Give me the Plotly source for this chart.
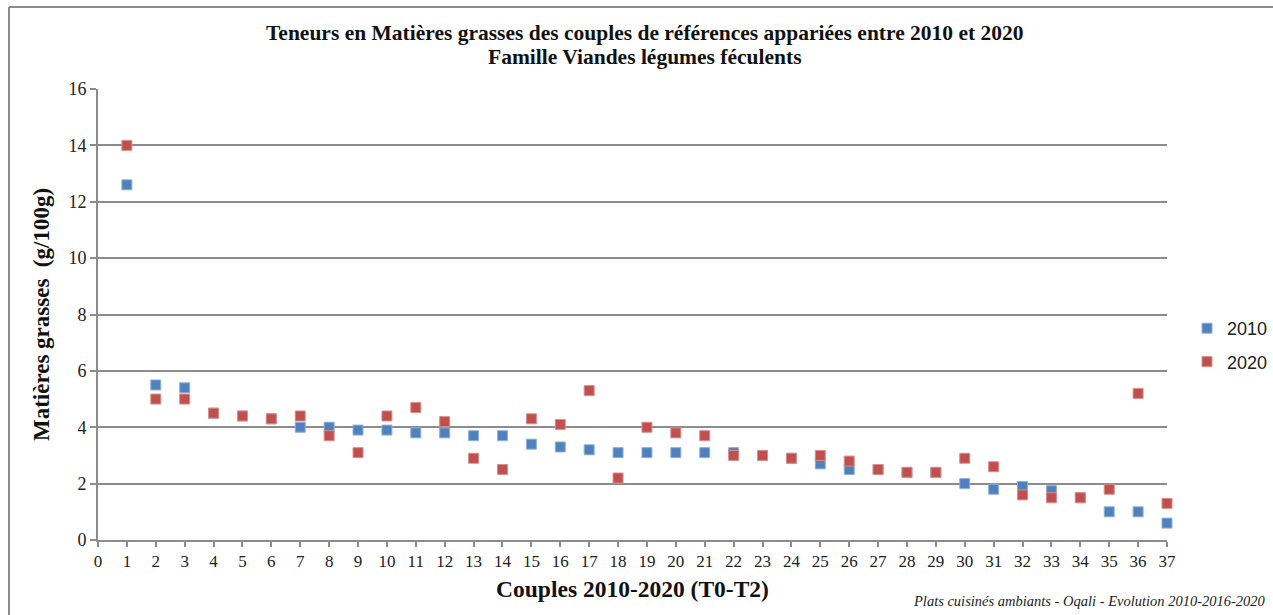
import plotly.graph_objects as go

couples = list(range(1, 38))
mg_2010 = [12.6, 5.5, 5.4, 4.5, 4.4, 4.3, 4.0, 4.0, 3.9, 3.9, 3.8, 3.8, 3.7, 3.7, 3.4, 3.3, 3.2,
           3.1, 3.1, 3.1, 3.1, 3.1, 3.0, 2.9, 2.7, 2.5, 2.5, 2.4, 2.4, 2.0, 1.8, 1.9, 1.75, 1.5,
           1.0, 1.0, 0.6]
mg_2020 = [14.0, 5.0, 5.0, 4.5, 4.4, 4.3, 4.4, 3.7, 3.1, 4.4, 4.7, 4.2, 2.9, 2.5, 4.3, 4.1, 5.3,
           2.2, 4.0, 3.8, 3.7, 3.0, 3.0, 2.9, 3.0, 2.8, 2.5, 2.4, 2.4, 2.9, 2.6, 1.6, 1.5, 1.5,
           1.8, 5.2, 1.3]
x_ticks = list(range(0, 38))
y_ticks = list(range(0, 17, 2))

serif = "Liberation Serif"

fig = go.Figure()
fig.add_trace(go.Scatter(x=couples, y=mg_2010, mode="markers", name="2010", legendgroup="a",
                         marker=dict(symbol="square", size=10, color="#4F81BD",
                                     line=dict(color="#8EB0DB", width=1)),
                         cliponaxis=False))
fig.add_trace(go.Scatter(x=couples, y=mg_2020, mode="markers", name="2020", legendgroup="b",
                         marker=dict(symbol="square", size=10, color="#C0504D",
                                     line=dict(color="#DB8E8C", width=1)),
                         cliponaxis=False))

W, H = 1273, 615
ml, mr, mt, mb = 98, 106, 89, 75
pw, ph = W - ml - mr, H - mt - mb

def px(xp):
    return (xp - ml) / pw

def py(yp):
    return (H - mb - yp) / ph

fig.update_layout(
    width=W, height=H,
    margin=dict(l=ml, r=mr, t=mt, b=mb, autoexpand=False),
    paper_bgcolor="white", plot_bgcolor="white",
    showlegend=True,
    legend=dict(x=px(1187), y=py(310), xanchor="left", yanchor="top",
                font=dict(family="Liberation Sans", size=18, color="#222"),
                traceorder="grouped", tracegroupgap=7, itemwidth=30),
    xaxis=dict(range=[0, 37], tickmode="array", tickvals=x_ticks, ticktext=[str(v) for v in x_ticks],
               showgrid=False, zeroline=False, showline=True, linecolor="#8c8c8c", linewidth=2,
               ticks="outside", ticklen=5, tickcolor="#8c8c8c", tickwidth=2,
               tickfont=dict(family=serif, size=17, color="#222"),
               title=dict(text="<b>Couples 2010-2020 (T0-T2)</b>", standoff=10,
                          font=dict(family=serif, size=23.5, color="#111"))),
    yaxis=dict(range=[0, 16], tickmode="array", tickvals=y_ticks,
               showgrid=True, gridcolor="#8c8c8c", gridwidth=2, zeroline=False,
               showline=True, linecolor="#8c8c8c", linewidth=2,
               ticks="outside", ticklen=6, tickcolor="#8c8c8c", tickwidth=2,
               tickfont=dict(family=serif, size=18, color="#222"),
               title=dict(text="<b>Matières grasses  (g/100g)</b>", standoff=12,
                          font=dict(family=serif, size=23, color="#111"))),
    annotations=[
        dict(text="<b>Teneurs en Matières grasses des couples de références appariées entre 2010 et 2020</b>",
             x=px(645), y=py(33), xref="paper", yref="paper", showarrow=False,
             xanchor="center", yanchor="middle",
             font=dict(family=serif, size=21.5, color="#111")),
        dict(text="<b>Famille Viandes légumes féculents</b>",
             x=px(645), y=py(57), xref="paper", yref="paper", showarrow=False,
             xanchor="center", yanchor="middle",
             font=dict(family=serif, size=21.5, color="#111")),
        dict(text="<i>Plats cuisinés ambiants - Oqali - Evolution 2010-2016-2020</i>",
             x=px(1268), y=py(601), xref="paper", yref="paper", showarrow=False,
             xanchor="right", yanchor="middle",
             font=dict(family=serif, size=14.5, color="#222")),
    ],
    shapes=[
        dict(type="line", xref="paper", yref="paper", x0=px(9), x1=px(1273), y0=py(7), y1=py(7),
             line=dict(color="#8c8c8c", width=2)),
        dict(type="line", xref="paper", yref="paper", x0=px(9), x1=px(9), y0=py(7), y1=py(615),
             line=dict(color="#8c8c8c", width=2)),
    ],
)

fig.write_html("out.html", post_script="document.body.style.margin='0';",
               config={"displayModeBar": False})
